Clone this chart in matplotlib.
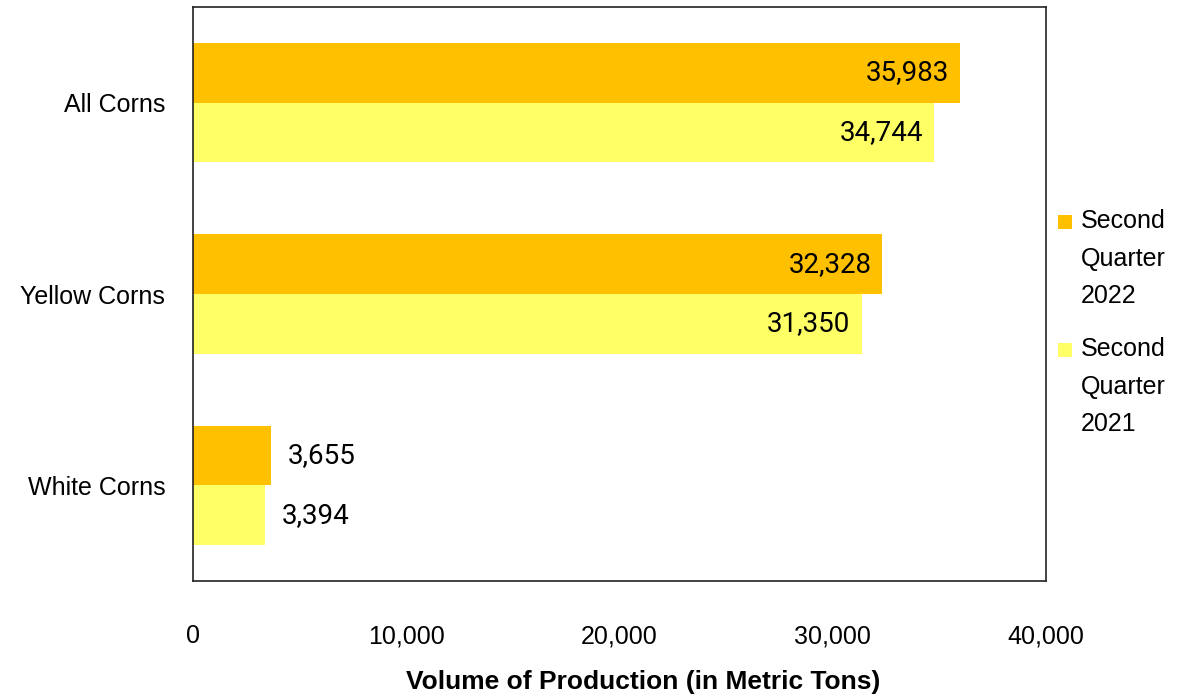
import matplotlib
matplotlib.use('Agg')
import matplotlib.pyplot as plt
import matplotlib.ticker as ticker
from matplotlib.patches import Rectangle
import numpy as np

plt.rcParams['font.family'] = ['Liberation Sans', 'DejaVu Sans']

categories = ['All Corns', 'Yellow Corns', 'White Corns']
q2_2022 = [35983, 32328, 3655]
q2_2021 = [34744, 31350, 3394]
series_names = ['Second\nQuarter\n2022', 'Second\nQuarter\n2021']
ORANGE = '#FFC000'
YELLOW = '#FFFF66'
W, H = 1181, 695

fig = plt.figure(figsize=(W/100, H/100), dpi=100)
ax = fig.add_axes([193/W, 1 - 581/H, (1046-193)/W, (581-7)/H])

y = np.arange(len(categories))
h = 0.3125
b1 = ax.barh(y - h/2, q2_2022, height=h, color=ORANGE)
b2 = ax.barh(y + h/2, q2_2021, height=h, color=YELLOW)

for bars, vals in [(b1, q2_2022), (b2, q2_2021)]:
    for bar, v in zip(bars, vals):
        yc = bar.get_y() + bar.get_height()/2
        if v > 10000:
            ax.annotate(f'{v:,}', (v, yc), xytext=(-8, 0), textcoords='offset points',
                        ha='right', va='center', fontsize=20, family='Roboto', color='black')
        else:
            ax.annotate(f'{v:,}', (v, yc), xytext=(12, 0), textcoords='offset points',
                        ha='left', va='center', fontsize=20, family='Roboto', color='black')

ax.set_xlim(0, 40000)
ax.set_ylim(2.5, -0.5)
ax.set_yticks(y)
ax.set_yticklabels(categories, fontsize=18)
ax.set_xticks([0, 10000, 20000, 30000, 40000])
ax.xaxis.set_major_formatter(ticker.FuncFormatter(lambda x, _: f'{x:,.0f}'))
ax.tick_params(axis='x', length=0, pad=31, labelsize=18)
ax.tick_params(axis='y', length=0, pad=20)
ax.set_xlabel('Volume of Production (in Metric Tons)', fontsize=19, fontweight='bold', labelpad=13)
ax.xaxis.set_label_coords((643-193)/853, -0.155)
for s in ax.spines.values():
    s.set_color('#222222')
    s.set_linewidth(1.2)

# legend drawn by hand: square aligned with the first text line
for name, color, yline in [(series_names[0], ORANGE, 222), (series_names[1], YELLOW, 350)]:
    fig.patches.append(Rectangle((1058/W, 1 - (yline + 7)/H), 14/W, 14/H,
                                 transform=fig.transFigure, facecolor=color, edgecolor='none'))
    fig.text(1081/W, 1 - (yline - 13)/H, name, ha='left', va='top', fontsize=18,
             linespacing=1.72)

fig.savefig('out.png', dpi=100, facecolor='white')
